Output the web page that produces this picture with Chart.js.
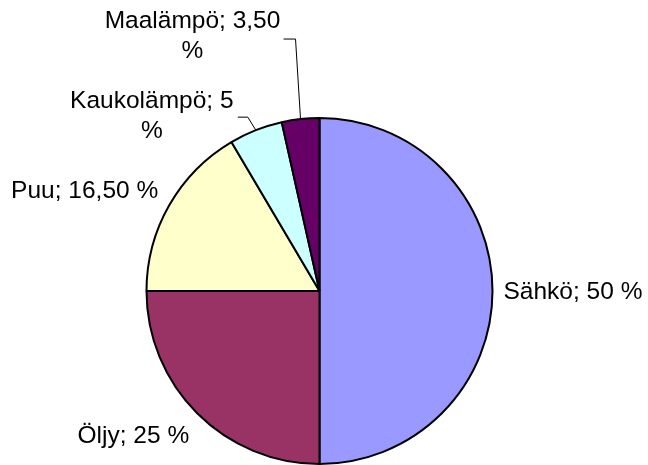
<!DOCTYPE html>
<html>
<head>
<meta charset="utf-8">
<script src="https://cdn.jsdelivr.net/npm/chart.js@4"></script>
<style>
  html, body { margin: 0; padding: 0; background: #fff; }
  #wrap { width: 648px; height: 465px; }
</style>
</head>
<body>
<div id="wrap"><canvas id="heat-chart" width="648" height="465"></canvas></div>
<script>
// Lämmitysmuodot (%)
const categories = ['Sähkö', 'Öljy', 'Puu', 'Kaukolämpö', 'Maalämpö'];
const shares = [50, 25, 16.5, 5, 3.5];
const sliceColors = ['#9999FF', '#993366', '#FFFFCC', '#CCFFFF', '#660066'];

function formatShare(v) {
    // 3.5 -> "3,50", 5 -> "5"
    return Number.isInteger(v) ? String(v) : v.toFixed(2).replace('.', ',');
}

// where each label sits relative to the outer middle point of its slice
const labelLayout = [
    { dx: 11, dy: 1, align: 'left', wrap: false },
    { dx: -8, dy: 23, align: 'right', wrap: false },
    { dx: -11, dy: -14, align: 'right', wrap: false },
    { dx: -104, dy: -29, align: 'center', wrap: true, leader: [[-8, -13], [-18, -13]] },
    { dx: -108, dy: -98, align: 'center', wrap: true, leader: [[-5, -80], [-17, -80]] }
];

const sliceLabels = {
    id: 'sliceLabels',
    afterDatasetsDraw(chart) {
        const ctx = chart.ctx;
        const arcs = chart.getDatasetMeta(0).data;
        ctx.save();
        ctx.font = '24.5px "Liberation Sans", Arial, sans-serif';
        ctx.fillStyle = '#000';
        ctx.strokeStyle = '#000';
        ctx.lineWidth = 1;
        ctx.textBaseline = 'middle';
        arcs.forEach((arc, i) => {
            const p = arc.getProps(['x', 'y', 'startAngle', 'endAngle', 'outerRadius'], true);
            const mid = (p.startAngle + p.endAngle) / 2;
            const ex = p.x + Math.cos(mid) * p.outerRadius;
            const ey = p.y + Math.sin(mid) * p.outerRadius;
            const lay = labelLayout[i];

            if (lay.leader) {
                ctx.beginPath();
                ctx.moveTo(ex, ey);
                lay.leader.forEach(pt => ctx.lineTo(ex + pt[0], ey + pt[1]));
                ctx.stroke();
            }

            const text = categories[i] + '; ' + formatShare(shares[i]);
            const lines = lay.wrap ? [text, '%'] : [text + ' %'];
            ctx.textAlign = lay.align;
            lines.forEach((line, k) => {
                ctx.fillText(line, ex + lay.dx, ey + lay.dy + k * 30);
            });
        });
        ctx.restore();
    }
};

const chartCtx = document.getElementById('heat-chart').getContext('2d');
new Chart(chartCtx, {
    type: 'pie',
    data: {
        labels: categories,
        datasets: [{
            data: shares,
            backgroundColor: sliceColors,
            borderColor: '#000',
            borderWidth: 2
        }]
    },
    options: {
        responsive: false,
        animation: false,
        layout: { padding: { left: 145, right: 154, top: 117, bottom: -1 } },
        plugins: {
            legend: { display: false },
            tooltip: { enabled: false }
        }
    },
    plugins: [sliceLabels]
});
</script>
</body>
</html>
